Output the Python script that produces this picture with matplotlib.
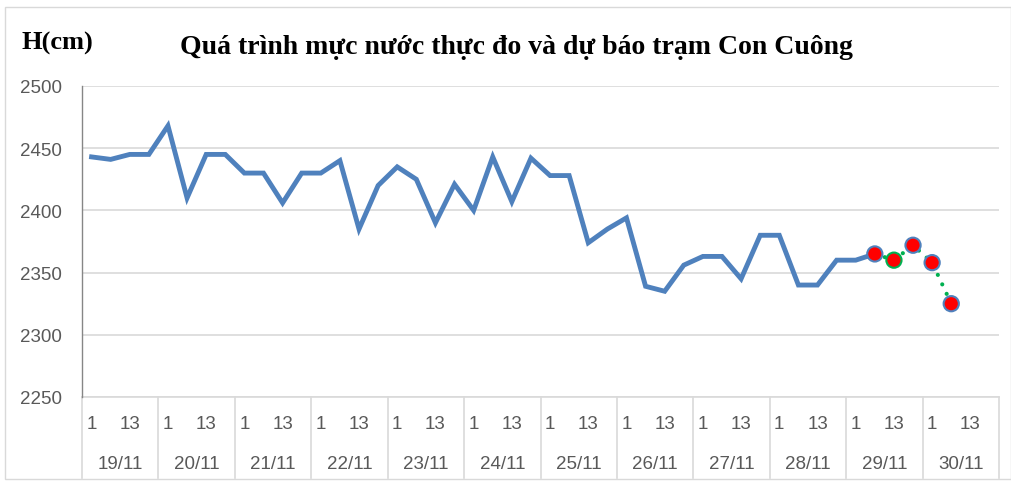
import matplotlib
matplotlib.use("Agg")
import matplotlib.pyplot as plt
import matplotlib.transforms as mtransforms
from matplotlib.patches import Rectangle
from matplotlib.lines import Line2D

# ---------------- data ----------------
days = ["19/11", "20/11", "21/11", "22/11", "23/11", "24/11",
        "25/11", "26/11", "27/11", "28/11", "29/11", "30/11"]
hours = ["1", "7", "13", "19"]
hour_labels_shown = ["1", "", "13", ""]

observed = [2443, 2441, 2445, 2445, 2468, 2410, 2445, 2445, 2430, 2430,
            2406, 2430, 2430, 2440, 2385, 2420, 2435, 2425, 2390, 2421,
            2400, 2443, 2407, 2442, 2428, 2428, 2374, 2385, 2394, 2339,
            2335, 2356, 2363, 2363, 2345, 2380, 2380, 2340, 2340, 2360,
            2360, 2365]
forecast = [2365, 2360, 2372, 2358, 2325]
forecast_start = 41

y_ticks = [2250, 2300, 2350, 2400, 2450, 2500]

title = "Quá trình mực nước thực đo và dự báo trạm Con Cuông"
ylabel = "H(cm)"

# ---------------- figure ----------------
W, H = 1011, 485
fig = plt.figure(figsize=(W / 100, H / 100), dpi=100)
fig.patch.set_facecolor("white")

# outer chart border
fig.add_artist(Rectangle((5 / W, 1 - 480 / H), (1011 - 5) / W, (480 - 8) / H,
                         transform=fig.transFigure, fill=False,
                         edgecolor="#D9D9D9", linewidth=1.0))

left, right, top, bottom = 82, 999, 87, 398
ax = fig.add_axes([left / W, 1 - bottom / H, (right - left) / W, (bottom - top) / H])

n = len(days) * len(hours)
x_obs = list(range(len(observed)))
x_fc = list(range(forecast_start, forecast_start + len(forecast)))

ax.set_xlim(-0.5, n - 0.5)
ax.set_ylim(y_ticks[0], y_ticks[-1])

ax.set_yticks(y_ticks)
ax.grid(axis="y", color="#D9D9D9", linewidth=1.2)
ax.set_axisbelow(True)
for s in ["top", "right", "bottom"]:
    ax.spines[s].set_visible(False)
ax.spines["left"].set_color("#868686")
ax.spines["left"].set_linewidth(1.0)

fs_tick = 13.5
tick_font = dict(family="Liberation Sans", size=fs_tick, color="#595959")
ax.tick_params(axis="y", length=0, pad=14.4, labelcolor="#595959")
for lab in ax.get_yticklabels():
    lab.set_fontfamily("Liberation Sans")
    lab.set_fontsize(fs_tick)

# x category labels
ax.set_xticks([])
trans = mtransforms.blended_transform_factory(ax.transData, ax.transAxes)
ax_h = bottom - top
for d_i, d in enumerate(days):
    for h_i, h in enumerate(hour_labels_shown):
        if h:
            ax.text(d_i * len(hours) + h_i, -27 / ax_h, h, transform=trans,
                    ha="center", va="center", **tick_font)
    ax.text(d_i * len(hours) + 1.5, -67 / ax_h, d, transform=trans,
            ha="center", va="center", **tick_font)
# separators
for k in range(len(days) + 1):
    xs = k * len(hours) - 0.5
    ax.add_line(Line2D([xs, xs], [0, -81 / ax_h], transform=trans,
                       color="#D9D9D9", linewidth=1.2, clip_on=False))
ax.add_line(Line2D([-0.5, n - 0.5], [0, 0], transform=trans,
                   color="#D9D9D9", linewidth=1.2, clip_on=False))

# observed line
ax.plot(x_obs, observed, color="#4F81BD", linewidth=3.5,
        solid_joinstyle="miter", zorder=3)

# forecast dotted line and markers
ax.plot(x_fc, forecast, color="#00B050", linewidth=3,
        linestyle=(0, (0.01, 2.5)), dash_capstyle="round", zorder=4)
edge_cols = ["#4F81BD", "#00B050", "#4F81BD", "#4F81BD", "#4F81BD"]
ax.scatter(x_fc, forecast, s=120, c="#FF0000", edgecolors=edge_cols,
           linewidths=1.5, zorder=5)

# texts
fig.text(516 / W, 1 - 48 / H, title, ha="center", va="center",
         family="Liberation Serif", fontweight="bold", fontsize=20, color="black")
fig.text(22 / W, 1 - 43 / H, ylabel, ha="left", va="center",
         family="Liberation Serif", fontweight="bold", fontsize=19, color="black")

fig.savefig("out.png", dpi=100, facecolor="white")
